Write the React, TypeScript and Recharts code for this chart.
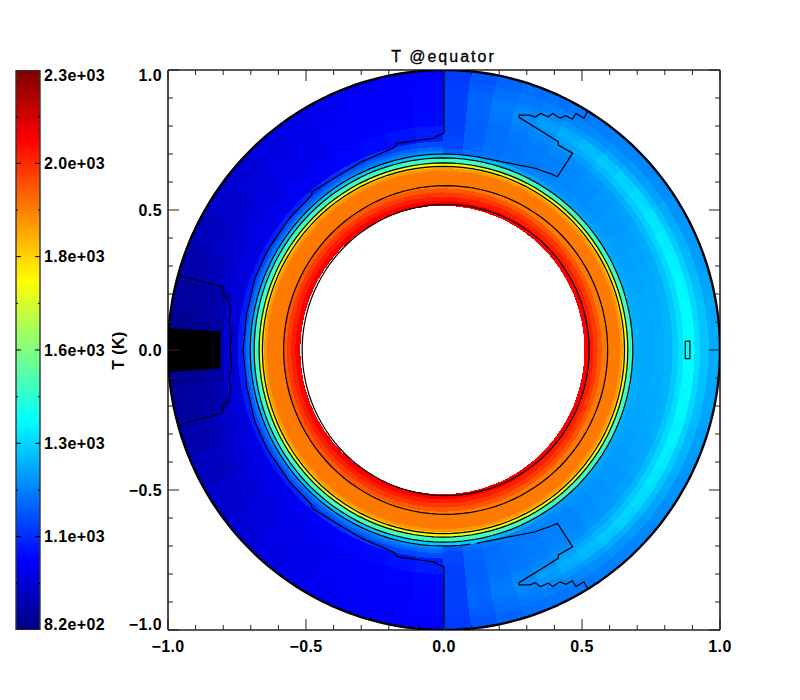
import React from "react";
import { ComposedChart, Scatter, XAxis, YAxis } from "recharts";

// ---- plot frame (pixels per data unit follow from the chart box) ----
const BOX = { left: 168, right: 720, top: 70, bottom: 630 };
const KX = (BOX.right - BOX.left) / 2;
const KY = (BOX.bottom - BOX.top) / 2;
const FIELD_SHIFT_INNER = -0.006;
const FIELD_SHIFT_OUTER = -0.002;
const CONTOUR_SHIFT_INNER = 0.006;
const CONTOUR_SHIFT_OUTER = -0.002;

// ---- axis ticks ----
const AXIS_TICKS = [-1, -0.9, -0.8, -0.7, -0.6, -0.5, -0.4, -0.3, -0.2, -0.1, 0, 0.1, 0.2, 0.3, 0.4, 0.5, 0.6, 0.7, 0.8, 0.9, 1];
const AXIS_MAJOR: Record<string, string> = { "-1": "\u22121.0", "-0.5": "\u22120.5", "0": "0.0", "0.5": "0.5", "1": "1.0" };

const CBAR_MIN = 816;
const CBAR_MAX = 2296;
const CBAR_MAJOR = [816, 1062.7, 1309.3, 1556, 1802.7, 2049.3, 2296];
const CBAR_MINOR = [939.3, 1186, 1432.7, 1679.3, 1926, 2172.7];
const CBAR_LABELS = ["8.2e+02", "1.1e+03", "1.3e+03", "1.6e+03", "1.8e+03", "2.0e+03", "2.3e+03"];

// ---- temperature field (K): axisymmetric inner rings ----
const RING_EDGES = [0.515, 0.533, 0.548, 0.563, 0.578, 0.64, 0.65, 0.658, 0.668, 0.686];
const RING_T = [2115, 2070, 2030, 1985, 1934, 1890, 1820, 1715, 1462];

// ---- outer zone, right half: each row one 5.625 deg column from the equator to the pole ----
const RIGHT_COLUMN = 5.625;
const RIGHT_EDGES = [0.686, 0.7, 0.72, 0.76, 0.8, 0.83, 0.85, 0.87, 0.89, 0.91, 0.93, 0.96, 1.0];
const RIGHT_T = [
  [1255, 1250, 1245, 1250, 1262, 1295, 1330, 1368, 1368, 1320, 1285, 1250],
  [1255, 1250, 1245, 1250, 1260, 1292, 1328, 1366, 1366, 1316, 1282, 1246],
  [1252, 1247, 1242, 1247, 1257, 1288, 1323, 1362, 1360, 1312, 1275, 1240],
  [1250, 1243, 1238, 1243, 1253, 1284, 1318, 1355, 1352, 1305, 1267, 1232],
  [1247, 1240, 1233, 1238, 1248, 1278, 1312, 1346, 1342, 1296, 1258, 1224],
  [1244, 1235, 1227, 1232, 1242, 1270, 1304, 1335, 1330, 1285, 1247, 1215],
  [1240, 1230, 1220, 1225, 1234, 1260, 1294, 1322, 1316, 1273, 1236, 1207],
  [1236, 1223, 1213, 1217, 1226, 1250, 1282, 1308, 1302, 1260, 1226, 1199],
  [1232, 1216, 1205, 1208, 1217, 1240, 1268, 1292, 1286, 1247, 1216, 1192],
  [1230, 1208, 1196, 1198, 1207, 1228, 1252, 1274, 1268, 1232, 1205, 1185],
  [1232, 1200, 1188, 1188, 1196, 1215, 1235, 1254, 1248, 1218, 1195, 1178],
  [1240, 1192, 1180, 1180, 1186, 1200, 1215, 1230, 1225, 1202, 1185, 1170],
  [1255, 1185, 1172, 1172, 1175, 1185, 1195, 1205, 1200, 1188, 1175, 1160],
  [1275, 1175, 1162, 1160, 1162, 1168, 1175, 1180, 1178, 1170, 1160, 1148],
  [1295, 1160, 1145, 1140, 1140, 1143, 1146, 1148, 1146, 1142, 1135, 1125],
  [1310, 1130, 1105, 1095, 1095, 1095, 1095, 1095, 1095, 1095, 1090, 1085],
];

// ---- outer zone, left half: each row one 7.5 deg column from the pole to the anti-equator ----
const LEFT_COLUMN = 7.5;
const LEFT_EDGES = [0.686, 0.7, 0.708, 0.716, 0.726, 0.745, 0.8, 0.85, 0.9, 0.95, 1.0];
const LEFT_T = [
  [1295, 1210, 1180, 1150, 1110, 1040, 1010, 1005, 1005, 1000],
  [1295, 1205, 1175, 1145, 1100, 1025, 1003, 1000, 1000, 995],
  [1290, 1200, 1170, 1140, 1090, 1012, 998, 995, 995, 990],
  [1290, 1195, 1165, 1130, 1080, 1003, 990, 988, 985, 980],
  [1290, 1190, 1160, 1125, 1070, 995, 980, 978, 975, 970],
  [1290, 1190, 1155, 1120, 1060, 985, 970, 965, 962, 958],
  [1285, 1185, 1150, 1115, 1050, 978, 960, 950, 945, 940],
  [1285, 1185, 1150, 1110, 1045, 970, 950, 935, 928, 925],
  [1285, 1180, 1150, 1105, 1040, 962, 940, 920, 910, 905],
  [1285, 1180, 1150, 1105, 1040, 952, 925, 900, 885, 880],
  [1285, 1180, 1150, 1105, 1040, 945, 885, 870, 862, 858],
  [1285, 1180, 1150, 1105, 1040, 938, 865, 850, 845, 840],
];

// ---- contour lines ----
const INNER_CONTOURS = [0.52, 0.587];
const MIDDLE_CONTOURS = [0.656, 0.668, 0.686];
const POLAR_ARC_R = 0.7;
const POLAR_ARC_FROM = 80;
const OUTER_RIM_R = 1;
// [x, y] in data units, upper half; the lower half is its mirror image
const COLD_CONTOUR: [number, number][] = [
  [0, 0.99], [0, 0.775], [-0.033, 0.76], [-0.033, 0.757], [-0.087, 0.75], [-0.171, 0.738], [-0.178, 0.724],
  [-0.3, 0.672], [-0.479, 0.565], [-0.479, 0.553], [-0.56, 0.47], [-0.64, 0.355], [-0.685, 0.256], [-0.715, 0.13], [-0.728, 0],
];
const WEDGE_CONTOUR: [number, number][] = [
  [0.521, 0.854], [0.507, 0.828], [0.478, 0.845], [0.465, 0.824], [0.442, 0.837], [0.42, 0.828], [0.394, 0.845],
  [0.378, 0.833], [0.35, 0.845], [0.33, 0.831], [0.312, 0.839], [0.272, 0.839], [0.272, 0.831], [0.414, 0.744],
  [0.414, 0.732], [0.466, 0.703], [0.411, 0.619], [0.382, 0.631], [0.33, 0.649], [0.12, 0.69],
];
const COLD_POCKET: [number, number][] = [
  [-0.963, 0.268], [-0.8, 0.224], [-0.804, 0.196], [-0.779, 0.185], [-0.773, 0.143], [-0.779, 0.096], [-0.769, 0.064], [-0.775, 0],
];
const BLACK_SPOT: [number, number][] = [[-0.999, 0.077], [-0.812, 0.064], [-0.812, -0.064], [-0.999, -0.077], [-1.0, 0], [-0.999, 0.077]];
const HOT_BOX: [number, number][] = [[0.874, 0.032], [0.891, 0.032], [0.891, -0.031], [0.874, -0.031], [0.874, 0.032]];

const FONT = "'Liberation Sans', sans-serif";

function jet(T: number) {
  const f = Math.min(1, Math.max(0, (T - CBAR_MIN) / (CBAR_MAX - CBAR_MIN)));
  const c = (v: number) => Math.round(255 * Math.min(1, Math.max(0, v)));
  return `rgb(${c(1.5 - Math.abs(4 * f - 3))},${c(1.5 - Math.abs(4 * f - 2))},${c(1.5 - Math.abs(4 * f - 1))})`;
}

type Cell = { x: number; y: number; r1: number; r2: number; a1: number; a2: number; T: number; shift: number };

const rad = (d: number) => (d * Math.PI) / 180;

function makeCell(r1: number, r2: number, a1: number, a2: number, T: number): Cell {
  // the outermost cells end exactly on the rim, which is centred on the origin
  const shift = r2 >= 1 ? 0 : r2 < 0.6 ? FIELD_SHIFT_INNER : FIELD_SHIFT_OUTER;
  // each cell reaches slightly under the next inner one, which is painted over it
  const inner = r1 > 0.52 ? r1 - 0.012 : r1;
  const rm = (inner + r2) / 2;
  const am = rad((a1 + a2) / 2);
  return { x: shift + rm * Math.cos(am), y: rm * Math.sin(am), r1: inner, r2, a1, a2, T, shift };
}

const fieldCells: Cell[] = [];
RIGHT_T.forEach((col, i) => {
  col.forEach((T, j) => {
    const a1 = i * RIGHT_COLUMN;
    const a2 = a1 + RIGHT_COLUMN;
    fieldCells.push(makeCell(RIGHT_EDGES[j], RIGHT_EDGES[j + 1], a1, a2, T));
    fieldCells.push(makeCell(RIGHT_EDGES[j], RIGHT_EDGES[j + 1], -a2, -a1, T));
  });
});
LEFT_T.forEach((col, i) => {
  col.forEach((T, j) => {
    const a1 = 90 + i * LEFT_COLUMN;
    const a2 = a1 + LEFT_COLUMN;
    fieldCells.push(makeCell(LEFT_EDGES[j], LEFT_EDGES[j + 1], a1, a2, T));
    fieldCells.push(makeCell(LEFT_EDGES[j], LEFT_EDGES[j + 1], -a2, -a1, T));
  });
});
RING_T.forEach((T, j) => {
  fieldCells.push(makeCell(RING_EDGES[j], RING_EDGES[j + 1], 0, 180, T));
  fieldCells.push(makeCell(RING_EDGES[j], RING_EDGES[j + 1], 180, 360, T));
});
fieldCells.sort((a, b) => b.r2 - a.r2);

function CellShape(props: any) {
  const c: Cell = props.payload;
  const ox = props.cx - (c.x - c.shift) * KX;
  const oy = props.cy + c.y * KY;
  const pt = (r: number, a: number) => `${ox + r * KX * Math.cos(rad(a))} ${oy - r * KY * Math.sin(rad(a))}`;
  const large = c.a2 - c.a1 > 180 ? 1 : 0;
  const d =
    `M${pt(c.r2, c.a1)}A${c.r2 * KX} ${c.r2 * KY} 0 ${large} 0 ${pt(c.r2, c.a2)}` +
    `L${pt(c.r1, c.a2)}A${c.r1 * KX} ${c.r1 * KY} 0 ${large} 1 ${pt(c.r1, c.a1)}Z`;
  return <path d={d} fill={jet(c.T)} stroke="none" shapeRendering="crispEdges" />;
}

const NoDot = () => <g />;

function circlePts(r: number, cx: number, from = 0, to = 360, step = 3) {
  const pts: { x: number; y: number }[] = [];
  for (let a = from; a <= to; a += step) pts.push({ x: cx + r * Math.cos(rad(a)), y: r * Math.sin(rad(a)) });
  return pts;
}
const toPts = (list: [number, number][]) => list.map(([x, y]) => ({ x, y }));
const mirrored = (list: [number, number][]) => {
  const upper = toPts(list);
  const lower = [...list].reverse().map(([x, y]) => ({ x, y: -y }));
  return [...upper, ...lower];
};

const LABEL_STYLE = { fontFamily: FONT, fontSize: 16, fontWeight: 700, letterSpacing: 0.4, fill: "#000" };
const TICK = "#222";

const isMajor = (v: number) => AXIS_MAJOR[String(v)] !== undefined;
const tickLen = (v: number) => (isMajor(v) ? 11 : 5);

function BottomTick({ x, payload }: any) {
  const v = payload.value;
  return (
    <g>
      <line x1={x} x2={x} y1={BOX.bottom} y2={BOX.bottom - tickLen(v)} stroke={TICK} strokeWidth={1} />
      {isMajor(v) && <text x={x} y={652} textAnchor="middle" {...LABEL_STYLE}>{AXIS_MAJOR[String(v)]}</text>}
    </g>
  );
}
function TopTick({ x, payload }: any) {
  return <line x1={x} x2={x} y1={BOX.top} y2={BOX.top + tickLen(payload.value)} stroke={TICK} strokeWidth={1} />;
}
function LeftTick({ y, payload }: any) {
  const v = payload.value;
  const dy = v === 1 ? 11 : v === -1 ? 0 : 6;
  return (
    <g>
      <line x1={BOX.left} x2={BOX.left + tickLen(v)} y1={y} y2={y} stroke={TICK} strokeWidth={1} />
      {isMajor(v) && <text x={162} y={y + dy} textAnchor="end" {...LABEL_STYLE}>{AXIS_MAJOR[String(v)]}</text>}
    </g>
  );
}
function RightTick({ y, payload }: any) {
  return <line x1={BOX.right} x2={BOX.right - tickLen(payload.value)} y1={y} y2={y} stroke={TICK} strokeWidth={1} />;
}

function Title() {
  return (
    <text x={443.5} y={62} textAnchor="middle" fontFamily={FONT} fontSize={16} letterSpacing={2} fill="#000" stroke="#000" strokeWidth={0.3}>
      T @equator
    </text>
  );
}

// ---- colour bar ----
const CBAR = { left: 16, right: 40 };
const CBAR_STEP = 10;
const cbarLevels: { x: number; y: number }[] = [];
for (let T = CBAR_MIN + CBAR_STEP / 2; T < CBAR_MAX; T += CBAR_STEP) cbarLevels.push({ x: 0.5, y: T });
const CBAR_BOX = [
  { x: 0, y: CBAR_MIN },
  { x: 1, y: CBAR_MIN },
  { x: 1, y: CBAR_MAX },
  { x: 0, y: CBAR_MAX },
  { x: 0, y: CBAR_MIN },
];

function BandShape(props: any) {
  const w = CBAR.right - CBAR.left;
  const h = ((BOX.bottom - BOX.top) * CBAR_STEP) / (CBAR_MAX - CBAR_MIN);
  return (
    <rect x={props.cx - w / 2} y={props.cy - h / 2} width={w} height={h + 0.5} fill={jet(props.payload.y)} shapeRendering="crispEdges" />
  );
}

function CbarTick({ y, payload }: any) {
  const v = payload.value;
  const i = CBAR_MAJOR.indexOf(v);
  const major = i >= 0;
  const len = major ? 5 : 2;
  const dy = i === 0 ? 0 : i === CBAR_MAJOR.length - 1 ? 11 : 5.5;
  const inner = i > 0 && i < CBAR_MAJOR.length - 1 ? true : !major;
  return (
    <g>
      {inner && <line x1={CBAR.left} x2={CBAR.left + len} y1={y} y2={y} stroke="#000" strokeWidth={1} />}
      {inner && <line x1={CBAR.right - len} x2={CBAR.right} y1={y} y2={y} stroke="#000" strokeWidth={1} />}
      {major && <text x={44} y={y + dy} {...LABEL_STYLE}>{CBAR_LABELS[i]}</text>}
    </g>
  );
}

function CbarLabel() {
  return (
    <text transform="translate(124 350.5) rotate(-90)" textAnchor="middle" {...LABEL_STYLE}>
      T (K)
    </text>
  );
}

export default function App() {
  const line = { stroke: "#000", strokeWidth: 1.2, fill: "none" };
  return (
    <div style={{ position: "absolute", left: 0, top: 0, width: 800, height: 700, background: "#fff" }}>
      <div style={{ position: "absolute", left: 0, top: 0 }}>
        <ComposedChart width={800} height={700} margin={{ left: 0, right: 0, top: 0, bottom: 0 }}>
          <XAxis xAxisId={0} type="number" dataKey="x" domain={[-1, 1]} ticks={AXIS_TICKS} interval={0} orientation="bottom"
            height={700 - BOX.bottom} tickSize={0} tickLine={false} tick={BottomTick} axisLine={{ stroke: TICK, strokeWidth: 1.6 }} allowDataOverflow />
          <XAxis xAxisId="top" type="number" dataKey="x" domain={[-1, 1]} ticks={AXIS_TICKS} interval={0} orientation="top"
            height={BOX.top} tickSize={0} tickLine={false} tick={TopTick} axisLine={{ stroke: TICK, strokeWidth: 1.6 }} label={<Title />} allowDataOverflow />
          <YAxis yAxisId={0} type="number" dataKey="y" domain={[-1, 1]} ticks={AXIS_TICKS} interval={0} orientation="left"
            width={BOX.left} tickSize={0} tickLine={false} tick={LeftTick} axisLine={{ stroke: TICK, strokeWidth: 1.6 }} allowDataOverflow />
          <YAxis yAxisId="right" type="number" dataKey="y" domain={[-1, 1]} ticks={AXIS_TICKS} interval={0} orientation="right"
            width={800 - BOX.right} tickSize={0} tickLine={false} tick={RightTick} axisLine={{ stroke: TICK, strokeWidth: 1.6 }} allowDataOverflow />

          <Scatter data={fieldCells} shape={CellShape} isAnimationActive={false} />
          <Scatter data={toPts(BLACK_SPOT)} shape={NoDot} line={{ stroke: "#000", strokeWidth: 1, fill: "#000" }} isAnimationActive={false} />
          {INNER_CONTOURS.map((r) => (
            <Scatter key={r} data={circlePts(r, CONTOUR_SHIFT_INNER)} shape={NoDot} line={line} isAnimationActive={false} />
          ))}
          {MIDDLE_CONTOURS.map((r) => (
            <Scatter key={r} data={circlePts(r, CONTOUR_SHIFT_OUTER)} shape={NoDot} line={line} isAnimationActive={false} />
          ))}
          <Scatter data={circlePts(POLAR_ARC_R, CONTOUR_SHIFT_OUTER, POLAR_ARC_FROM, 360 - POLAR_ARC_FROM)} shape={NoDot} line={line} isAnimationActive={false} />
          <Scatter data={mirrored(COLD_CONTOUR)} shape={NoDot} line={line} isAnimationActive={false} />
          <Scatter data={toPts(WEDGE_CONTOUR)} shape={NoDot} line={line} isAnimationActive={false} />
          <Scatter data={WEDGE_CONTOUR.map(([x, y]) => ({ x, y: -y }))} shape={NoDot} line={line} isAnimationActive={false} />
          <Scatter data={mirrored(COLD_POCKET)} shape={NoDot} line={line} isAnimationActive={false} />
          <Scatter data={toPts(HOT_BOX)} shape={NoDot} line={line} isAnimationActive={false} />
          <Scatter data={circlePts(OUTER_RIM_R, 0, 0, 360, 1)} shape={NoDot} line={{ stroke: "#000", strokeWidth: 2.4, fill: "none" }} isAnimationActive={false} />
        </ComposedChart>
      </div>
      <div style={{ position: "absolute", left: 0, top: 0 }}>
        <ComposedChart width={140} height={700} margin={{ left: CBAR.left, right: 0, top: BOX.top, bottom: 700 - BOX.bottom }}>
          <XAxis type="number" dataKey="x" domain={[0, 1]} hide />
          <YAxis type="number" dataKey="y" domain={[CBAR_MIN, CBAR_MAX]} orientation="right" width={100} interval={0}
            ticks={[...CBAR_MAJOR, ...CBAR_MINOR].sort((a, b) => a - b)} tickSize={0} tickLine={false} axisLine={false} tick={CbarTick} label={<CbarLabel />} allowDataOverflow />
          <Scatter data={cbarLevels} shape={BandShape} isAnimationActive={false} />
          <Scatter data={CBAR_BOX} shape={NoDot} line={{ stroke: "#333", strokeWidth: 1.4, fill: "none" }} isAnimationActive={false} />
        </ComposedChart>
      </div>
    </div>
  );
}
